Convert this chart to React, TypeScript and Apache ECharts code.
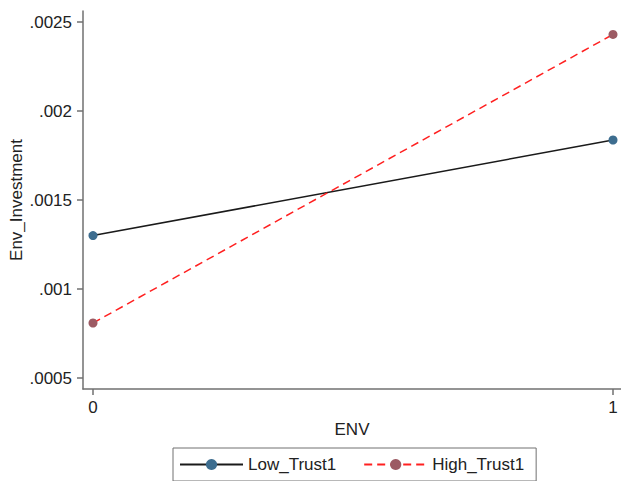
import React, { useEffect, useRef } from "react";
import * as echarts from "echarts";

const xCategories = [0, 1];
const lowTrust = [0.0013, 0.001837];
const highTrust = [0.000809, 0.00243];
const yTicks = [0.0005, 0.001, 0.0015, 0.002, 0.0025];
const xTicks = [0, 1];
const seriesNames = ["Low_Trust1", "High_Trust1"];

const FONT = "'Liberation Sans', Arial, sans-serif";
const FS = 17;

export default function App() {
  const ref = useRef<HTMLDivElement>(null);
  useEffect(() => {
    if (!ref.current) return;
    const chart = echarts.init(ref.current, undefined, { renderer: "svg" });
    const pxPerVal = 0.0005 / 89;
    chart.setOption({
      animation: false,
      backgroundColor: "#ffffff",
      textStyle: { fontFamily: FONT },
      grid: {
        left: 83,
        top: 11,
        width: 538,
        height: 378,
        containLabel: false,
        outerBoundsMode: "none",
      },
      xAxis: {
        type: "value",
        min: -10 / 520,
        max: 1 + 8 / 520,
        name: "ENV",
        nameLocation: "middle",
        nameGap: 32,
        nameMoveOverlap: false,
        nameTextStyle: { fontSize: FS, color: "#222", fontFamily: FONT },
        axisLine: { show: true, onZero: false, lineStyle: { color: "#707070", width: 1.5 } },
        axisTick: { show: true, length: 6, customValues: xTicks, lineStyle: { color: "#707070", width: 1.5 } },
        axisLabel: {
          customValues: xTicks,
          fontSize: FS,
          color: "#222",
          margin: 10,
          fontFamily: FONT,
          formatter: (v: number) => String(v),
        },
        splitLine: { show: false },
      },
      yAxis: {
        type: "value",
        min: 0.0005 - 11 * pxPerVal,
        max: 0.0025 + 11 * pxPerVal,
        name: "Env_Investment",
        nameLocation: "middle",
        nameGap: 58,
        nameRotate: 90,
        nameMoveOverlap: false,
        nameTextStyle: { fontSize: FS, color: "#222", fontFamily: FONT },
        axisLine: { show: true, onZero: false, lineStyle: { color: "#707070", width: 1.5 } },
        axisTick: { show: true, length: 6, customValues: yTicks, lineStyle: { color: "#707070", width: 1.5 } },
        axisLabel: {
          customValues: yTicks,
          fontSize: FS,
          color: "#222",
          margin: 11,
          fontFamily: FONT,
          formatter: (v: number) => String(v).replace(/^0\./, "."),
        },
        splitLine: { show: false },
      },
      legend: {
        left: 173,
        top: 448,
        padding: [8, 12, 8, 6],
        itemGap: 27,
        itemWidth: 63,
        itemHeight: 14,
        itemTextGap: 7,
        borderColor: "#707070",
        borderWidth: 1,
        textStyle: { fontSize: FS, color: "#222", fontFamily: FONT },
        data: seriesNames,
      },
      series: [
        {
          name: seriesNames[0],
          type: "line",
          data: xCategories.map((x, i) => [x, lowTrust[i]]),
          symbol: "circle",
          symbolSize: 9,
          itemStyle: { color: "#3d6d8f" },
          lineStyle: { color: "#1a1a1a", width: 1.5 },
        },
        {
          name: seriesNames[1],
          type: "line",
          data: xCategories.map((x, i) => [x, highTrust[i]]),
          symbol: "circle",
          symbolSize: 9,
          itemStyle: { color: "#9c5a63" },
          lineStyle: { color: "#ff2020", width: 1.5, type: [8, 5] },
        },
      ],
    });
    return () => chart.dispose();
  }, []);
  return (
    <div
      ref={ref}
      style={{ position: "fixed", left: 0, top: 0, width: 621, height: 481 }}
    />
  );
}
